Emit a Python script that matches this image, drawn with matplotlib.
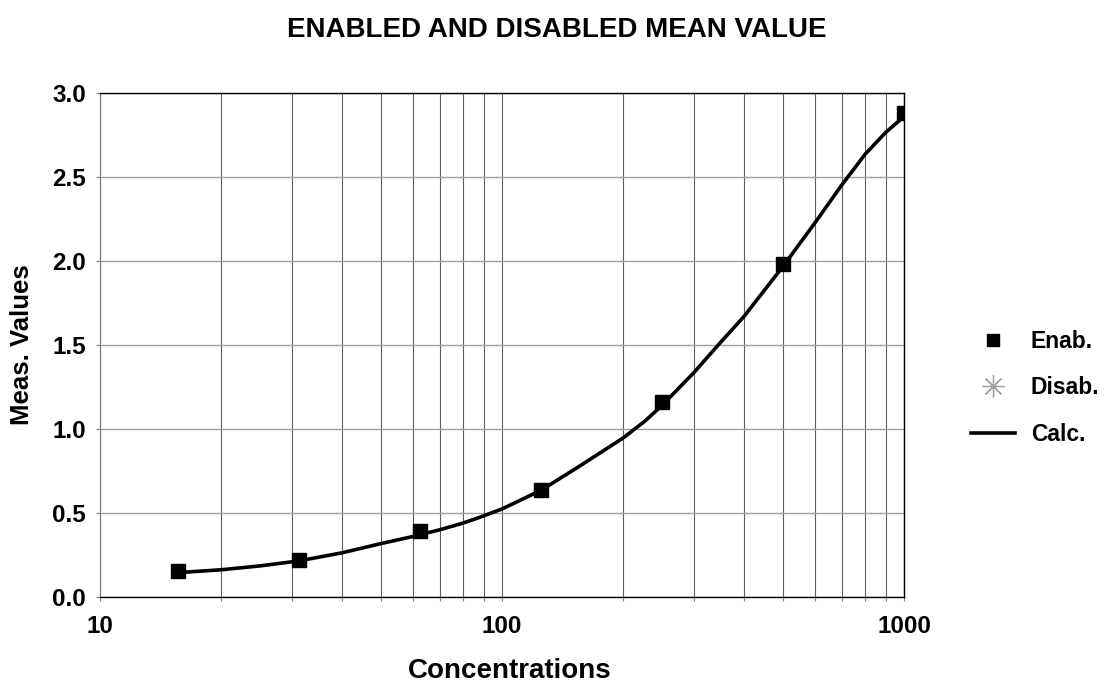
import matplotlib
matplotlib.use("Agg")
import matplotlib.pyplot as plt
from matplotlib.ticker import FixedLocator, NullFormatter, FixedFormatter

# ---- data ----
enab_x = [15.625, 31.25, 62.5, 125, 250, 500, 1000]
enab_y = [0.157, 0.222, 0.39, 0.639, 1.158, 1.984, 2.880]

disab_x = []
disab_y = []

calc_x = [15.625, 20, 25, 31.25, 40, 50, 60, 70, 80, 87.5, 100, 125, 155,
          200, 227, 250, 300, 345, 400, 500, 600, 700, 800, 900, 1000]
calc_y = [0.145, 0.162, 0.185, 0.215, 0.263, 0.318, 0.360, 0.400, 0.440,
          0.472, 0.524, 0.635, 0.775, 0.946, 1.048, 1.140, 1.335, 1.500,
          1.670, 1.968, 2.226, 2.452, 2.635, 2.765, 2.860]

x_major = [10, 100, 1000]
x_major_labels = ["10", "100", "1000"]
x_minor = [20, 30, 40, 50, 60, 70, 80, 90, 200, 300, 400, 500, 600, 700, 800, 900]
y_ticks = [0.0, 0.5, 1.0, 1.5, 2.0, 2.5, 3.0]
y_labels = ["0.0", "0.5", "1.0", "1.5", "2.0", "2.5", "3.0"]

title = "ENABLED AND DISABLED MEAN VALUE"
xlabel = "Concentrations"
ylabel = "Meas. Values"

plt.rcParams['font.family'] = ['Liberation Sans', 'DejaVu Sans']
plt.rcParams['font.weight'] = 'bold'

W, H = 1114, 684
fig = plt.figure(figsize=(W / 100, H / 100), dpi=100)
L, R, T, B = 100, 904, 93, 597
ax = fig.add_axes([L / W, (H - B) / H, (R - L) / W, (B - T) / H])

ax.set_xscale('log')
ax.set_xlim(10, 1000)
ax.set_ylim(0, 3)

ax.xaxis.set_major_locator(FixedLocator(x_major))
ax.xaxis.set_major_formatter(FixedFormatter(x_major_labels))
ax.xaxis.set_minor_locator(FixedLocator(x_minor))
ax.xaxis.set_minor_formatter(NullFormatter())
ax.yaxis.set_major_locator(FixedLocator(y_ticks))
ax.yaxis.set_major_formatter(FixedFormatter(y_labels))

ax.grid(True, which='both', axis='x', color='#606060', lw=0.8)
ax.grid(True, which='major', axis='y', color='#a0a0a0', lw=1.0)
ax.set_axisbelow(True)

ax.tick_params(axis='both', which='both', direction='out', length=3,
               width=0.8, color='#808080', labelsize=17.5)
ax.tick_params(axis='x', which='major', pad=10)
ax.tick_params(axis='y', which='major', pad=7)

for s in ['top', 'right', 'bottom']:
    ax.spines[s].set_color('black')
    ax.spines[s].set_linewidth(1.0)
ax.spines['left'].set_color('#808080')
ax.spines['left'].set_linewidth(0.9)

ax.plot(calc_x, calc_y, color='black', lw=2.6, label='Calc.', zorder=3)
ax.plot(enab_x, enab_y, linestyle='none', marker='s', markersize=10.5,
        color='black', label='Enab.', zorder=4)
ax.plot(disab_x, disab_y, linestyle='none', marker=(8, 2, 0), markersize=16,
        color='#a0a0a0', markeredgewidth=0.9, label='Disab.', zorder=4)

handles, labels = ax.get_legend_handles_labels()
order = [labels.index('Enab.'), labels.index('Disab.'), labels.index('Calc.')]
leg = fig.legend([handles[i] for i in order], [labels[i] for i in order],
                 loc='center left', bbox_to_anchor=(953 / W, 1 - 388 / H),
                 frameon=False, fontsize=16.5, handlelength=1.9,
                 handletextpad=0.7, labelspacing=1.02, borderpad=0.3)
for h in leg.legend_handles:
    try:
        if h.get_marker() == 's':
            h.set_markersize(9)
    except Exception:
        pass

fig.text(557 / W, 1 - 30 / H, title, ha='center', va='center',
         fontsize=20, fontweight='bold')
fig.text(510 / W, 1 - 671 / H, xlabel, ha='center', va='center',
         fontsize=20, fontweight='bold')
fig.text(22 / W, 1 - 345 / H, ylabel, ha='center', va='center',
         fontsize=18.5, fontweight='bold', rotation=90)

fig.savefig('out.png', dpi=100)
